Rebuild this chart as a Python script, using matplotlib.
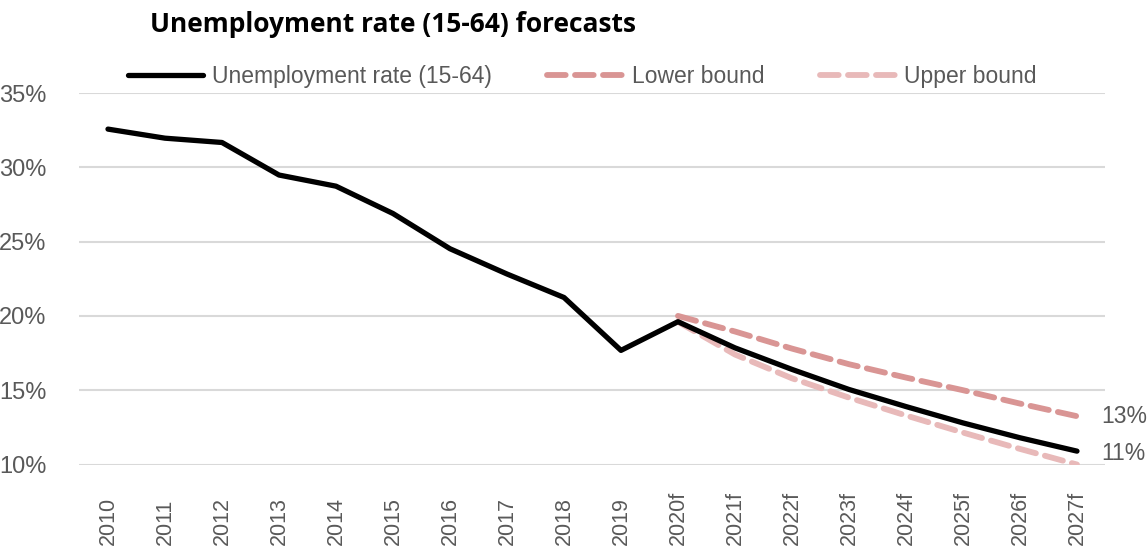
import matplotlib
matplotlib.use("Agg")
import matplotlib.pyplot as plt
from matplotlib import font_manager as fm
from matplotlib.transforms import blended_transform_factory

categories = ["2010", "2011", "2012", "2013", "2014", "2015", "2016", "2017", "2018", "2019",
              "2020f", "2021f", "2022f", "2023f", "2024f", "2025f", "2026f", "2027f"]
unemployment = [32.57, 31.96, 31.67, 29.48, 28.73, 26.89, 24.52, 22.82, 21.24, 17.68,
                19.61, 17.85, 16.4, 15.05, 13.9, 12.8, 11.8, 10.9]
forecast_cats = categories[10:]
lower_bound = [20.0, 18.95, 17.8, 16.75, 15.85, 15.0, 14.1, 13.25]
upper_bound = [19.6, 17.4, 15.8, 14.5, 13.3, 12.15, 11.05, 10.0]
yticks = [10, 15, 20, 25, 30, 35]
end_labels = ["13%", "11%"]

names = {f.name for f in fm.fontManager.ttflist}
narrow = "Liberation Sans Narrow" if "Liberation Sans Narrow" in names else "Liberation Sans"
GRAY = "#595959"
C_LOW = "#D99594"
C_UP = "#E8B9B9"

fig = plt.figure(figsize=(11.47, 5.49), dpi=100)
ax = fig.add_axes([0.0693, 0.1539, 0.8945, 0.6767])

x = list(range(len(categories)))
xf = x[10:]
ax.plot(x, unemployment, color="black", lw=3.8, solid_capstyle="round", solid_joinstyle="round",
        label="Unemployment rate (15-64)", zorder=4)
ax.plot(xf, lower_bound, color=C_LOW, lw=4.2, dashes=(3.2, 1.6), dash_capstyle="round",
        label="Lower bound", zorder=3)
ax.plot(xf, upper_bound, color=C_UP, lw=4.2, dashes=(3.2, 1.6), dash_capstyle="round",
        label="Upper bound", zorder=2)

ax.set_xlim(-0.5, len(categories) - 0.5)
ax.set_ylim(10, 35)
ax.set_yticks(yticks)
ax.set_yticklabels([f"{v}%" for v in yticks], fontfamily=narrow, fontsize=17, color=GRAY)
ax.set_xticks(x)
ax.set_xticklabels([])
ax.tick_params(axis="both", length=0)
ax.tick_params(axis="y", pad=24)
ax.yaxis.grid(True, color="#D9D9D9", lw=1.5)
ax.set_axisbelow(True)
for s in ax.spines.values():
    s.set_visible(False)

# category labels anchored at the bottom (rotated)
tr = blended_transform_factory(ax.transData, fig.transFigure)
for xi, lab in zip(x, categories):
    ax.text(xi, 4.0 / 549, lab, transform=tr, rotation=90, ha="center", va="bottom",
            fontfamily=narrow, fontsize=15.5, color=GRAY)

xe = len(categories) - 0.5 - 4.5 / 57
ax.text(xe, lower_bound[-1], end_labels[0], fontfamily=narrow,
        fontsize=16.5, color=GRAY, va="center", ha="left")
ax.text(xe, unemployment[-1] - 0.15, end_labels[1], fontfamily=narrow,
        fontsize=16.5, color=GRAY, va="center", ha="left")

leg = ax.legend(loc="lower left", bbox_to_anchor=(0.038, 0.99), ncol=3, frameon=False,
                prop={"family": narrow, "size": 16.5}, handlelength=3.3, handletextpad=0.4,
                columnspacing=2.4, borderaxespad=0.0)
for t in leg.get_texts():
    t.set_color(GRAY)

fig.text(0.131, 1 - 25.0 / 549, "Unemployment rate (15-64) forecasts", fontfamily="Open Sans",
         fontweight="bold", fontsize=19, color="black", va="center", ha="left")

fig.savefig("out.png", dpi=100)
